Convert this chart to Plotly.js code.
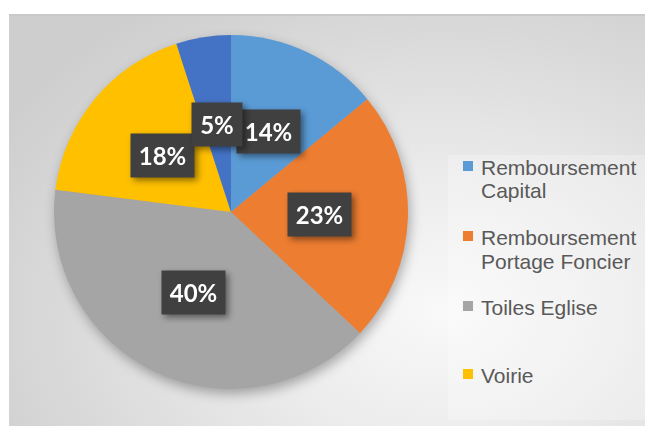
<!DOCTYPE html>
<html>
<head>
<meta charset="utf-8">
<script src="https://cdn.plot.ly/plotly-3.0.1.min.js"></script>
<style>
html, body { margin: 0; padding: 0; background: #fff; }
#panel {
  position: absolute; left: 9px; top: 14px; width: 636px; height: 412px;
  box-sizing: border-box; border-top: 2px solid #c9c9c9;
  background: radial-gradient(ellipse 80% 90% at 68% 72%, #f9f9f9 0%, #ececec 35%, #cecece 100%);
}
#plot { position: absolute; left: 0; top: 0; width: 645px; height: 426px; }
.pielayer { filter: drop-shadow(2px 5px 6px rgba(0,0,0,0.3)); }
.annotation[data-index="0"], .annotation[data-index="1"], .annotation[data-index="2"],
.annotation[data-index="3"], .annotation[data-index="4"] { filter: drop-shadow(3px 3px 3px rgba(0,0,0,0.45)); }
</style>
</head>
<body>
<div id="panel"></div>
<div id="plot"></div>
<script>
var categories = ['Remboursement Capital', 'Remboursement Portage Foncier', 'Toiles Eglise', 'Voirie', 'Autres'];
var shares = [14, 23, 40, 18, 5];
var colors = ['#5B9BD5', '#ED7D31', '#A5A5A5', '#FFC000', '#4472C4'];
var legendNames = [['Remboursement', 'Capital'], ['Remboursement', 'Portage Foncier'], ['Toiles Eglise'], ['Voirie']];

var W = 645, H = 426;
var cx = 231, cy = 212, r = 177;           // pie centre and radius, px
var legendY = [167, 237, 307, 375];          // first-line centre of each legend entry, px
var lineGap = 24;

function px(x) { return x / W; }
function py(y) { return 1 - y / H; }

var trace = {
  type: 'pie',
  values: shares,
  labels: categories,
  sort: false,
  direction: 'clockwise',
  rotation: 0,
  marker: {colors: colors, line: {width: 0}},
  textinfo: 'none',
  hoverinfo: 'label+percent',
  showlegend: false,
  domain: {x: [px(cx - r), px(cx + r)], y: [py(cy + r), py(cy - r)]}
};

// data labels: dark boxes at half radius on each slice's mid angle
var total = shares.reduce(function (a, b) { return a + b; }, 0);
var annotations = [];
var cum = 0;
shares.forEach(function (v) {
  var mid = (cum + v / 2) / total * 2 * Math.PI;
  cum += v;
  var txt = Math.round(v / total * 100) + '%';
  annotations.push({
    x: px(cx + 0.5 * r * Math.sin(mid)),
    y: py(cy - 0.5 * r * Math.cos(mid)),
    xref: 'paper', yref: 'paper', xanchor: 'center', yanchor: 'middle', showarrow: false,
    text: txt,
    font: {family: 'Lato', size: 24, color: '#ffffff', weight: 'bold'},
    bgcolor: '#404040', borderpad: 6, width: txt.length * 13 + 12, height: 31
  });
});

// legend built by hand (only four entries are visible in the original)
var shapes = [{
  type: 'rect', xref: 'paper', yref: 'paper',
  x0: px(448), x1: 1, y0: py(420), y1: py(155),
  fillcolor: 'rgba(255,255,255,0.25)', line: {width: 0}, layer: 'below'
}];
legendNames.forEach(function (lines, i) {
  shapes.push({
    type: 'rect', xref: 'paper', yref: 'paper',
    x0: px(463), x1: px(473), y0: py(legendY[i] + 4), y1: py(legendY[i] - 6),
    fillcolor: colors[i], line: {width: 0}
  });
  lines.forEach(function (t, j) {
    annotations.push({
      x: px(479), y: py(legendY[i] + j * lineGap),
      xref: 'paper', yref: 'paper', xanchor: 'left', yanchor: 'middle', showarrow: false,
      text: t,
      font: {family: 'Liberation Sans, Arial', size: 21, color: '#595959'}
    });
  });
});

var layout = {
  width: W, height: H,
  margin: {l: 0, r: 0, t: 0, b: 0},
  paper_bgcolor: 'rgba(0,0,0,0)',
  plot_bgcolor: 'rgba(0,0,0,0)',
  showlegend: false,
  annotations: annotations,
  shapes: shapes
};

Plotly.newPlot('plot', [trace], layout, {displayModeBar: false, staticPlot: true});
</script>
</body>
</html>
